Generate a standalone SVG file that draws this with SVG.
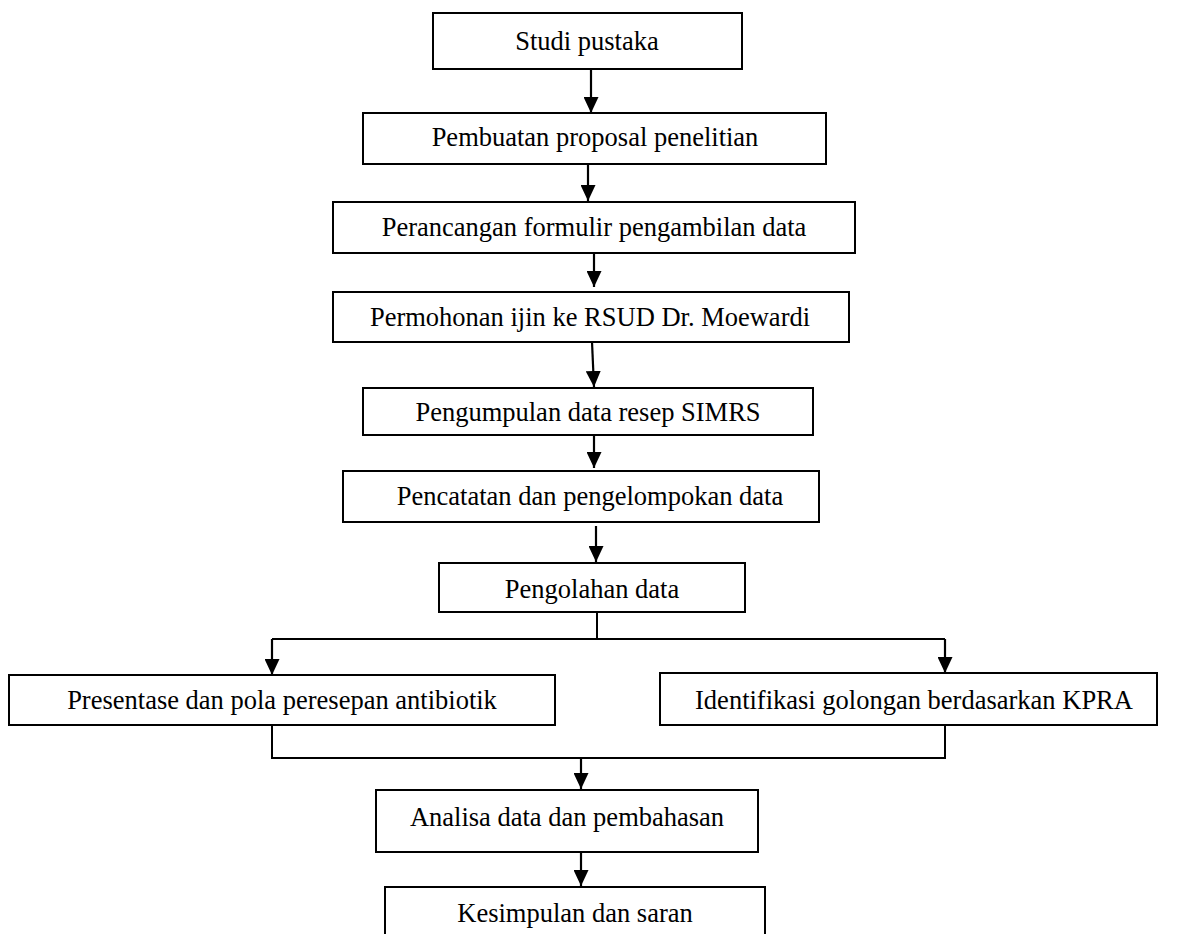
<svg xmlns="http://www.w3.org/2000/svg" width="1184" height="934" viewBox="0 0 1184 934">
<style>
.box{fill:#fff;stroke:#000;stroke-width:2}
.lbl{font-family:"Liberation Serif","Times New Roman",serif;font-size:26.5px;fill:#000;text-anchor:middle}
.ln{fill:none;stroke:#000;stroke-width:2}
.ar{fill:none;stroke:#000;stroke-width:2.2;marker-end:url(#ah)}
</style>
<defs>
<marker id="ah" markerUnits="userSpaceOnUse" markerWidth="16" markerHeight="15" viewBox="0 0 16 15" refX="16" refY="7.5" orient="auto">
<path d="M0,0 L16,7.5 L0,15 z" fill="#000"/>
</marker>
</defs>
<rect width="1184" height="934" fill="#fff"/>
<g id="connectors">
<line class="ar" x1="591" y1="69" x2="591" y2="113"/>
<line class="ar" x1="588" y1="164" x2="588" y2="201"/>
<line class="ar" x1="594" y1="254" x2="594" y2="287"/>
<line class="ar" x1="592" y1="342" x2="594" y2="387"/>
<line class="ar" x1="594" y1="435" x2="594" y2="468"/>
<line class="ar" x1="596" y1="526" x2="596" y2="562"/>
<polyline class="ln" points="597,612 597,639"/>
<polyline class="ln" points="272,639 945,639"/>
<line class="ar" x1="272" y1="639" x2="272" y2="675"/>
<line class="ar" x1="945" y1="639" x2="945" y2="673"/>
<polyline class="ln" points="272,725 272,758 945,758 945,725"/>
<line class="ar" x1="581" y1="758" x2="581" y2="789"/>
<line class="ar" x1="581" y1="852" x2="581" y2="886"/>
</g>
<g id="n1"><rect class="box" x="433" y="13" width="309" height="56"/><text class="lbl" x="587" y="50">Studi pustaka</text></g>
<g id="n2"><rect class="box" x="363" y="113" width="463" height="51"/><text class="lbl" x="595" y="146">Pembuatan proposal penelitian</text></g>
<g id="n3"><rect class="box" x="333" y="202" width="522" height="51"/><text class="lbl" x="594" y="236">Perancangan formulir pengambilan data</text></g>
<g id="n4"><rect class="box" x="333" y="292" width="516" height="50"/><text class="lbl" x="590" y="326">Permohonan ijin ke RSUD Dr. Moewardi</text></g>
<g id="n5"><rect class="box" x="363" y="388" width="450" height="47"/><text class="lbl" x="588" y="421">Pengumpulan data resep SIMRS</text></g>
<g id="n6"><rect class="box" x="343" y="471" width="476" height="51"/><text class="lbl" x="590" y="505">Pencatatan dan pengelompokan data</text></g>
<g id="n7"><rect class="box" x="439" y="563" width="306" height="49"/><text class="lbl" x="592" y="598">Pengolahan data</text></g>
<g id="n8"><rect class="box" x="9" y="675" width="546" height="50"/><text class="lbl" x="282" y="709">Presentase dan pola peresepan antibiotik</text></g>
<g id="n9"><rect class="box" x="660" y="673" width="497" height="52"/><text class="lbl" x="914" y="709">Identifikasi golongan berdasarkan KPRA</text></g>
<g id="n10"><rect class="box" x="376" y="790" width="382" height="62"/><text class="lbl" x="567" y="826">Analisa data dan pembahasan</text></g>
<g id="n11"><rect class="box" x="385" y="887" width="380" height="60"/><text class="lbl" x="575" y="922">Kesimpulan dan saran</text></g>
</svg>
